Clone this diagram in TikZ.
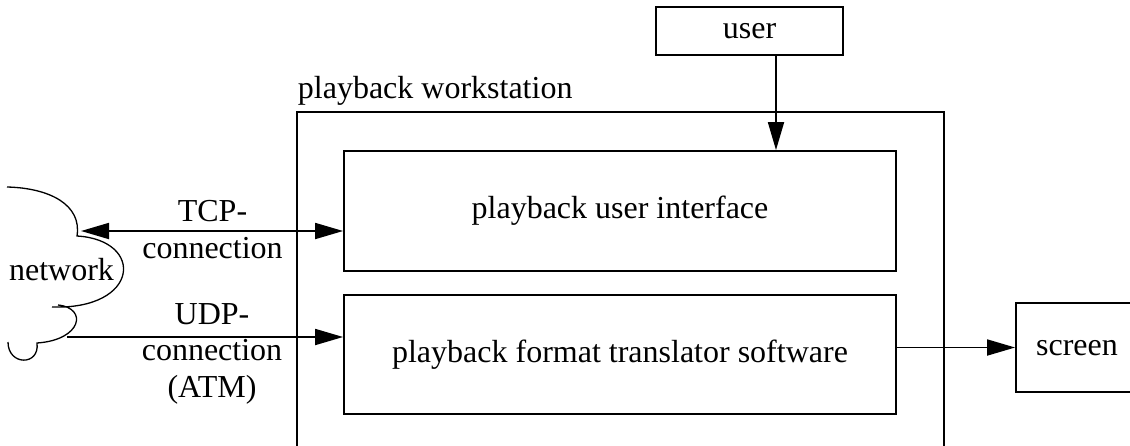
\documentclass[tikz,border=0pt]{standalone}
\usepackage{fontspec}
\setmainfont{Liberation Serif}
\usetikzlibrary{arrows.meta}
\begin{document}
\begin{tikzpicture}[x=1pt,y=-1pt,
  line width=1.8pt,
  every node/.style={font=\fontsize{32}{36.5}\selectfont},
  box/.style={draw, inner sep=0pt, anchor=center, text height=22pt, text depth=7pt},
  lbl/.style={inner sep=0pt, anchor=base, align=center},
  tip/.style={-{Triangle[length=28pt,width=16pt]}},
  dtip/.style={{Triangle[length=28pt,width=16pt]}-{Triangle[length=28pt,width=16pt]}},
  cloudline/.style={line width=1.3pt}
]
\useasboundingbox (0,0) rectangle (1130,445);
\clip (0,0) rectangle (1130,445);

% boxes
\node[box, minimum width=187pt, minimum height=48pt] (user) at (749.5,31) {user};
\node[draw, inner sep=0pt, minimum width=647pt, minimum height=380pt, anchor=north west] (ws) at (296,111) {};
\node[lbl, anchor=base west] (wslabel) at (297,98) {playback workstation};
\node[box, minimum width=552pt, minimum height=120pt] (ui) at (620,211) {playback user interface};
\node[box, minimum width=552pt, minimum height=119pt] (tr) at (620,354.5) {playback format translator software};
\node[box, minimum width=122pt, minimum height=89pt] (screen) at (1077,347.5) {screen};

% network cloud
\draw[cloudline] (7,187) .. controls (50,188) and (82,205) .. (77,236)
  .. controls (145,240) and (140,310) .. (52,307)
  (58,305) .. controls (88,308) and (82,340) .. (37,343)
  .. controls (40,366) and (8,366) .. (8,342);
\node[lbl] (net) at (61.5,280) {network};
\coordinate (netT) at (81,231);
\coordinate (netU) at (67,337);

% connection labels (base anchor = last line)
\node[lbl] (tcp) at (212.5,258) {TCP-\\connection};
\node[lbl] (udp) at (212,397) {UDP-\\connection\\(ATM)};

% connectors
\draw[dtip] (netT) -- (netT -| ui.west);
\draw[tip] (netU) -- (netU -| tr.west);
\coordinate (ux) at (776,0);
\draw[tip] (ux |- user.south) -- (ux |- ui.north);
\draw[tip] (screen.west -| tr.east) -- (screen.west);
\end{tikzpicture}
\end{document}
